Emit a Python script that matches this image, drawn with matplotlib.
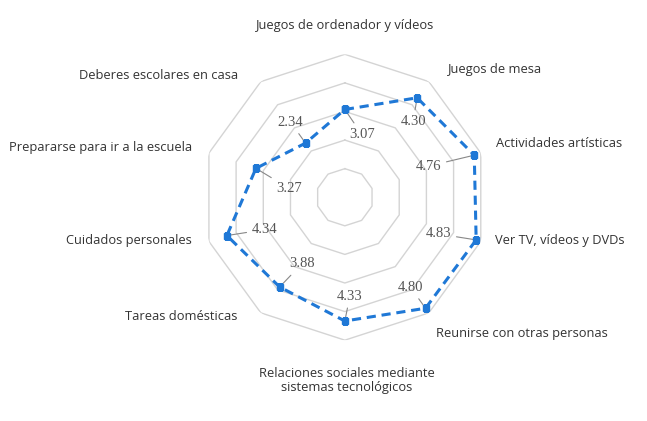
import numpy as np
import matplotlib
matplotlib.use("Agg")
import matplotlib.pyplot as plt

# categories, clockwise from the top
categories = [
    "Juegos de ordenador y vídeos",
    "Juegos de mesa",
    "Actividades artísticas",
    "Ver TV, vídeos y DVDs",
    "Reunirse con otras personas",
    "Relaciones sociales mediante\nsistemas tecnológicos",
    "Tareas domésticas",
    "Cuidados personales",
    "Prepararse para ir a la escuela",
    "Deberes escolares en casa",
]
values = [3.07, 4.30, 4.76, 4.83, 4.80, 4.33, 3.88, 4.34, 3.27, 2.34]
value_labels = ["3.07", "4.30", "4.76", "4.83", "4.80", "4.33", "3.88", "4.34", "3.27", "2.34"]
rings = [1, 2, 3, 4, 5]

# layout: label offsets in pixels
val_off = [(17, -25), (-4, -24), (-46, -11), (-38, 6), (-15, 21),
           (5, 25), (22, 23), (38, 6), (33, -20), (-15, 21)]
cat_off = [(0, 29), (66, 12), (15, 10), (14, 1), (7, -21),
           (2, -40), (-23, -4), (-17, 1), (-17, 6), (-23, 6)]
cat_ha = ["center", "center", "left", "left", "left",
          "center", "right", "right", "right", "right"]

n = len(categories)
theta = np.arange(n) * 2 * np.pi / n
theta_closed = np.append(theta, theta[0])

fig = plt.figure(figsize=(6.47, 4.21), dpi=100)
ax = fig.add_axes([0.312, 0.192, 0.442, 0.679], projection="polar")
ax.set_theta_zero_location("N")
ax.set_theta_direction(-1)
ax.set_ylim(0, 5)
ax.axis("off")

# decagon grid
for r in rings:
    ax.plot(theta_closed, [r] * (n + 1), color="#d4d4d4", lw=1.0, zorder=1)

vals_closed = values + values[:1]
ax.plot(theta_closed, vals_closed, color="#1f78d6", lw=2.2,
        dashes=(3.0, 1.9), marker="s", markersize=4.5,
        markerfacecolor="#1f78d6", markeredgecolor="#1f78d6", zorder=3)

for t, v, lab, off in zip(theta, values, value_labels, val_off):
    ax.annotate(lab, xy=(t, v), xytext=off, textcoords="offset pixels",
                ha="center", va="center", fontsize=10.5,
                family="Liberation Serif", color="#555555",
                arrowprops=dict(arrowstyle="-", color="#888888", lw=0.8,
                                shrinkA=2, shrinkB=1),
                zorder=2)

for t, lab, off, ha in zip(theta, categories, cat_off, cat_ha):
    ax.annotate(lab, xy=(t, 5), xytext=off, textcoords="offset pixels",
                ha=ha, va="center", fontsize=9.3, family="Open Sans",
                color="#333333", linespacing=1.1, annotation_clip=False)

fig.savefig("out.png", dpi=100)
